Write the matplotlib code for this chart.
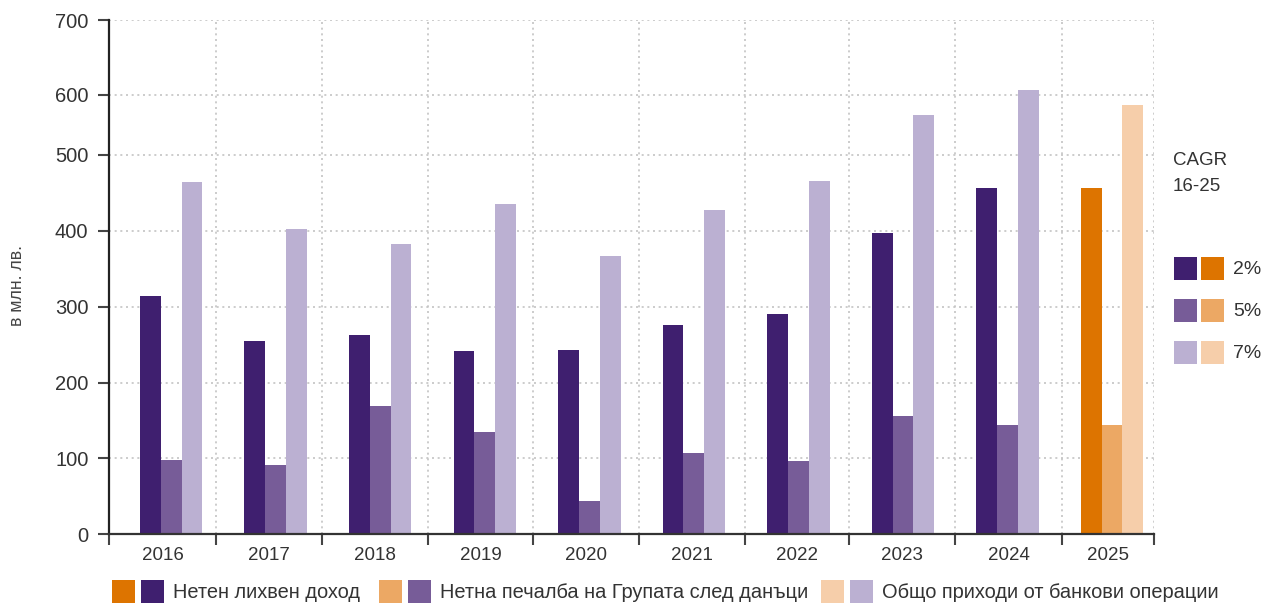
import numpy as np
import matplotlib
matplotlib.use("Agg")
import matplotlib.pyplot as plt
from matplotlib.patches import Rectangle
from matplotlib.ticker import FixedLocator, NullFormatter

plt.rcParams['font.family'] = ['Liberation Sans', 'DejaVu Sans']

# ---------------- data ----------------
years = ['2016', '2017', '2018', '2019', '2020', '2021', '2022', '2023', '2024', '2025']
net_interest_income = [314, 255, 263, 242, 243, 276, 291, 398, 456, 456]
net_profit = [98, 91, 169, 135, 44, 107, 96, 156, 144, 144]
total_banking_income = [464, 402, 383, 435, 367, 427, 466, 567, 607, 583]
is_plan = [False] * 9 + [True]

series_names = ['Нетен лихвен доход', 'Нетна печалба на Групата след данъци',
                'Общо приходи от банкови операции']
cagr_labels = ['2%', '5%', '7%']
y_ticks = [0, 100, 200, 300, 400, 500, 600, 700]
y_label = 'в млн. лв.'
cagr_title = ['CAGR', '16-25']

# ---------------- styles ----------------
purple = ['#3F1F6F', '#775C98', '#BBB0D2']
orange = ['#DD7400', '#ECA864', '#F6CEAA']
text_col = '#333333'
grid_col = '#c4c4c4'

W, H = 1266, 604
fig = plt.figure(figsize=(W / 100, H / 100), dpi=100)

# axes placement (pixels)
left_px, right_px, top_px, bot_px = 109.3, 1154.3, 20, 534
ax = fig.add_axes([left_px / W, 1 - bot_px / H, (right_px - left_px) / W, (bot_px - top_px) / H])

# the reference draws its gridlines unevenly above 500: piecewise scale
knot_h = np.array([0, 75.7, 151.5, 227.3, 303, 379, 439, 514])
knot_v = np.array(y_ticks, dtype=float)


def fwd(v):
    v = np.asarray(v, dtype=float)
    out = np.interp(v, knot_v, knot_h)
    out = np.where(v < 0, v * 0.757, out)
    out = np.where(v > 700, 514 + (v - 700) * 0.75, out)
    return out


def inv(h):
    h = np.asarray(h, dtype=float)
    out = np.interp(h, knot_h, knot_v)
    out = np.where(h < 0, h / 0.757, out)
    out = np.where(h > 514, 700 + (h - 514) / 0.75, out)
    return out


ax.set_yscale('function', functions=(fwd, inv))

x = np.arange(len(years))
w = 0.199
series = [net_interest_income, net_profit, total_banking_income]
for k, vals in enumerate(series):
    cols = [orange[k] if p else purple[k] for p in is_plan]
    ax.bar(x + (k - 1) * w, vals, width=w, color=cols, linewidth=0, zorder=3)

ax.set_ylim(0, 700)
ax.set_xlim(-0.5911, 9.404)

# category cell boundaries (layout) and labels
bounds = [-0.5911, 0.4266, 1.4405, 2.4572, 3.4644, 4.4754, 5.4921, 6.4868, 7.5007, 8.5184, 9.404]
mids = [(a + b) / 2 for a, b in zip(bounds[:-1], bounds[1:])]
ax.xaxis.set_major_locator(FixedLocator(bounds))
ax.xaxis.set_major_formatter(NullFormatter())
ax.xaxis.set_minor_locator(FixedLocator(mids))
ax.set_xticklabels(years, minor=True)
ax.tick_params(axis='x', which='major', length=8, width=1.5, color='#444444', direction='out')
ax.tick_params(axis='x', which='minor', length=0, pad=9, labelsize=13.5, labelcolor=text_col)

ax.set_yticks(y_ticks)
ax.set_yticklabels([str(t) for t in y_ticks])
ax.tick_params(axis='y', length=8, width=1.5, color='#444444', pad=7, labelsize=14.5,
               labelcolor=text_col)

ax.grid(True, which='major', axis='both', linestyle=(0, (1.2, 2.2)), color=grid_col,
        linewidth=1.2, zorder=0)
ax.set_axisbelow(True)

for s in ['top', 'right']:
    ax.spines[s].set_visible(False)
ax.spines['left'].set_color('#222222')
ax.spines['left'].set_linewidth(1.6)
ax.spines['bottom'].set_color('#333333')
ax.spines['bottom'].set_linewidth(1.6)
ax.spines['left'].set_zorder(5)
ax.spines['bottom'].set_zorder(5)

fig.text(17 / W, 1 - 285 / H, y_label, rotation=90, ha='center', va='center',
         fontsize=12.8, color='#444444')


def rect_px(x0, y0, w_, h_, color):
    fig.patches.append(Rectangle((x0 / W, 1 - (y0 + h_) / H), w_ / W, h_ / H,
                                 transform=fig.transFigure, facecolor=color,
                                 edgecolor='none'))


# right CAGR legend
for txt, yy in zip(cagr_title, [160.5, 186.5]):
    fig.text(1173 / W, 1 - yy / H, txt, ha='left', va='center', fontsize=13.5,
             color=text_col)
row_y = [257, 299, 341]
for k, yy in enumerate(row_y):
    rect_px(1174, yy, 23, 23, purple[k])
    rect_px(1200.7, yy, 23, 23, orange[k])
    fig.text(1233 / W, 1 - (yy + 12) / H, cagr_labels[k], ha='left', va='center',
             fontsize=14, color=text_col)

# bottom legend
leg_x = [112, 379, 821]
for k, lx in enumerate(leg_x):
    rect_px(lx, 580, 23, 23, orange[k])
    rect_px(lx + 29, 580, 23, 23, purple[k])
    fig.text((lx + 61) / W, 1 - 592 / H, series_names[k], ha='left', va='center',
             fontsize=14.4, color=text_col)

fig.savefig('out.png', dpi=100)
